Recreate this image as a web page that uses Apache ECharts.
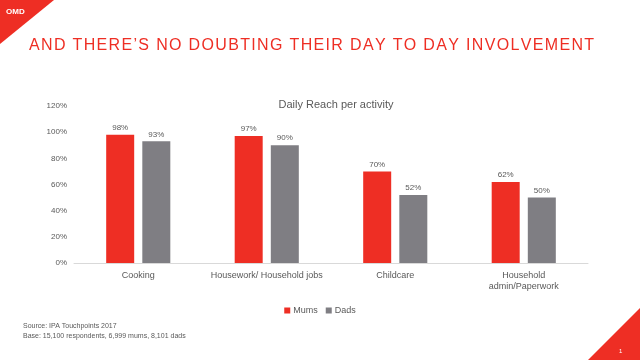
<!DOCTYPE html>
<html><head><meta charset="utf-8">
<script src="https://cdn.jsdelivr.net/npm/echarts@6/dist/echarts.min.js"></script>
<style>html,body{margin:0;padding:0;background:#fff}#c{width:640px;height:360px}</style>
</head><body><div id="c"></div>
<script>
const categories = ['Cooking', 'Housework/ Household jobs', 'Childcare', 'Household\nadmin/Paperwork'];
const mums = [98, 97, 70, 62];
const dads = [93, 90, 52, 50];
const yTicks = [0, 20, 40, 60, 80, 100, 120];
const headline = 'AND THERE’S NO DOUBTING THEIR DAY TO DAY INVOLVEMENT';

const RED = '#EE2E24', GREY = '#7F7E83', TXT = '#595959';
const FONT = '"Liberation Sans", "DejaVu Sans", sans-serif';
const spaced = headline.split(' ').map(w => w.split('').join('\u200A')).join('\u200A \u200A');
const chart = echarts.init(document.getElementById('c'));
const lbl = {show: true, position: 'top', formatter: p => p.value + '%', fontSize: 8, color: TXT, fontFamily: FONT, distance: 3};
chart.setOption({
  animation: false,
  textStyle: {fontFamily: FONT},
  title: {text: 'Daily Reach per activity', left: 331, top: 94, textAlign: 'center',
    textStyle: {fontSize: 11, fontWeight: 'normal', color: TXT, fontFamily: FONT}},
  grid: {left: 74, right: 52, top: 106, bottom: 97, containLabel: false},
  legend: {data: ['Mums', 'Dads'], left: 'center', top: 301, itemWidth: 6, itemHeight: 6, itemGap: 8,
    icon: 'rect', textStyle: {fontSize: 9, color: TXT, fontFamily: FONT, padding: [0,0,0,-2]}},
  xAxis: {type: 'category', data: categories,
    axisLine: {lineStyle: {color: '#D9D9D9'}}, axisTick: {show: false},
    axisLabel: {fontSize: 9, color: TXT, margin: 7, lineHeight: 11, interval: 0, fontFamily: FONT}},
  yAxis: {type: 'value', min: yTicks[0], max: yTicks[yTicks.length-1], interval: 20,
    splitLine: {show: false}, axisLine: {show: false}, axisTick: {show: false},
    axisLabel: {formatter: v => v + '%', fontSize: 8, color: TXT, margin: 7, fontFamily: FONT}},
  series: [
    {name: 'Mums', type: 'bar', data: mums, itemStyle: {color: RED}, barWidth: 28, barGap: '29%', label: lbl},
    {name: 'Dads', type: 'bar', data: dads, itemStyle: {color: GREY}, barWidth: 28, label: lbl}
  ],
  graphic: [
    {type: 'polygon', shape: {points: [[0,0],[54,0],[0,44]]}, style: {fill: RED}, silent: true},
    {type: 'text', left: 6, top: 8, style: {text: 'OMD', fill: '#fff', fontSize: 8, fontWeight: 'bold', fontFamily: FONT}},
    {type: 'polygon', shape: {points: [[640,308],[640,360],[588,360]]}, style: {fill: RED}, silent: true},
    {type: 'text', left: 619, top: 348, style: {text: '1', fill: '#fff', fontSize: 6, fontFamily: FONT}},
    {type: 'text', left: 29, top: 38, style: {text: spaced, fill: RED, fontSize: 16, fontFamily: FONT}},
    {type: 'text', left: 23, top: 321, style: {text: 'Source: IPA Touchpoints 2017\nBase: 15,100 respondents, 6,999 mums, 8,101 dads', fill: TXT, fontSize: 7, lineHeight: 10, fontFamily: FONT}}
  ]
});
</script></body></html>
